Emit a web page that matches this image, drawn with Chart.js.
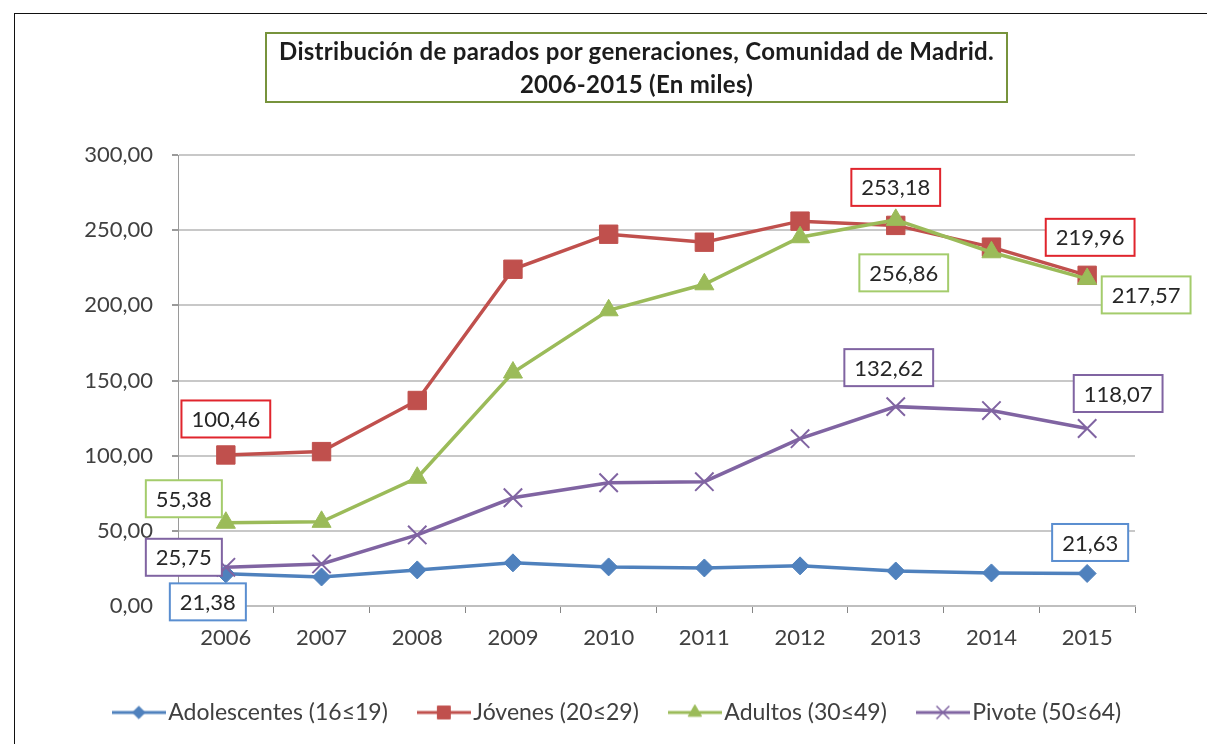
<!DOCTYPE html>
<html>
<head>
<meta charset="utf-8">
<script src="https://cdn.jsdelivr.net/npm/chart.js@4.4.1/dist/chart.umd.min.js"></script>
<style>
    body { margin: 0; background: #fff; }
    #wrap { position: relative; width: 1207px; height: 744px; overflow: hidden; }
    #frame { position: absolute; left: 14px; top: 13px; width: 1300px; height: 800px; border-top: 1px solid #111; border-left: 1px solid #111; }
    #titulo { position: absolute; left: 265px; top: 32px; width: 739px; height: 67px; border: 2px solid #77933C;
              font: bold 24px Lato, sans-serif; letter-spacing: 0.3px; color: #1c1c1c; text-align: center; line-height: 33px; box-sizing: content-box; }
    #grafico { position: absolute; left: 0; top: 0; }
</style>
</head>
<body>
<div id="wrap">
    <div id="frame"></div>
    <canvas id="grafico" width="1207" height="744"></canvas>
    <div id="titulo">Distribución de parados por generaciones, Comunidad de Madrid.<br>2006-2015 (En miles)</div>
</div>
<script>
const anios = ['2006', '2007', '2008', '2009', '2010', '2011', '2012', '2013', '2014', '2015'];
const adolescentes = [21.38, 19.3, 24.0, 28.7, 26.0, 25.3, 26.7, 23.3, 22.0, 21.63];
const jovenes = [100.46, 102.7, 136.7, 224.0, 247.3, 242.0, 256.0, 253.18, 238.7, 219.96];
const adultos = [55.38, 56.0, 85.3, 155.3, 196.7, 214.0, 245.3, 256.86, 235.3, 217.57];
const pivote = [25.75, 28.0, 47.3, 72.0, 82.0, 82.7, 111.3, 132.62, 130.0, 118.07];
const nombres = ['Adolescentes (16≤19)', 'Jóvenes (20≤29)', 'Adultos (30≤49)', 'Pivote (50≤64)'];

const colores = ['#4F81BD', '#C0504D', '#9BBB59', '#8064A2'];
const coloresEtiqueta = ['#5A8ED0', '#E0252D', '#A4CC6C', '#8064A2'];
const estilos = ['rectRot', 'rect', 'triangle', 'crossRot'];
const radios = [9, 13, 11, 13];
const fuente = 'Lato, "DejaVu Sans", sans-serif';

// etiquetas de datos: serie, punto, desplazamiento en px
const etiquetas = [
    { ds: 0, i: 0, dx: -18, dy: 28 }, { ds: 0, i: 9, dx: 3, dy: -31 },
    { ds: 1, i: 0, dx: 0, dy: -36 }, { ds: 1, i: 7, dx: 0, dy: -38 }, { ds: 1, i: 9, dx: 3, dy: -38 },
    { ds: 2, i: 0, dx: -42, dy: -24 }, { ds: 2, i: 7, dx: 8, dy: 53 }, { ds: 2, i: 9, dx: 59, dy: 16 },
    { ds: 3, i: 0, dx: -42, dy: -10 }, { ds: 3, i: 7, dx: -7, dy: -39 }, { ds: 3, i: 9, dx: 31, dy: -35 }
];

function formato(v) {
    return v.toFixed(2).replace('.', ',');
}

function iconoLeyenda(n) {
    const c = document.createElement('canvas');
    c.width = 54;
    c.height = 20;
    const ctx = c.getContext('2d');
    ctx.strokeStyle = colores[n];
    ctx.lineWidth = 3;
    ctx.beginPath();
    ctx.moveTo(0, 10);
    ctx.lineTo(54, 10);
    ctx.stroke();
    ctx.fillStyle = colores[n];
    ctx.lineWidth = n == 3 ? 1.5 : 1;
    Chart.helpers.drawPoint(ctx, { pointStyle: estilos[n], radius: radios[n] * 0.7, rotation: 0, borderWidth: ctx.lineWidth }, 27, 10);
    return c;
}

const pluginEtiquetas = {
    id: 'etiquetas',
    afterDatasetsDraw(chart) {
        const ctx = chart.ctx;
        ctx.save();
        ctx.font = '22px ' + fuente;
        ctx.textAlign = 'center';
        ctx.textBaseline = 'middle';
        etiquetas.forEach(e => {
            const punto = chart.getDatasetMeta(e.ds).data[e.i];
            const texto = formato(chart.data.datasets[e.ds].data[e.i]);
            const cx = punto.x + e.dx;
            const cy = punto.y + e.dy;
            const w = ctx.measureText(texto).width + 20;
            const h = 37;
            ctx.fillStyle = '#fff';
            ctx.fillRect(cx - w / 2, cy - h / 2, w, h);
            ctx.strokeStyle = coloresEtiqueta[e.ds];
            ctx.lineWidth = 2;
            ctx.strokeRect(cx - w / 2, cy - h / 2, w, h);
            ctx.fillStyle = '#262626';
            ctx.fillText(texto, cx, cy + 1);
        });
        ctx.restore();
    }
};

const series = [adolescentes, jovenes, adultos, pivote];

const data = {
    labels: anios,
    datasets: series.map((valores, n) => ({
        label: nombres[n],
        data: valores,
        borderColor: colores[n],
        backgroundColor: colores[n],
        borderWidth: 3.5,
        pointStyle: estilos[n],
        pointRadius: radios[n],
        pointBorderWidth: n == 3 ? 2 : 1,
        tension: 0,
        order: 4 - n
    }))
};

const config = {
    type: 'line',
    data: data,
    options: {
        responsive: false,
        animation: false,
        layout: {
            padding: { left: 35, right: 0, top: 155, bottom: 10 }
        },
        scales: {
            x: {
                offset: true,
                grid: { offset: true, drawOnChartArea: false, tickLength: 7, tickColor: '#868686', lineWidth: 1 },
                border: { color: '#BFBFBF', width: 2 },
                ticks: { color: '#404040', font: { family: fuente, size: 22 }, padding: 12 },
                afterFit: s => { s.height = 57; }
            },
            y: {
                min: 0,
                max: 300,
                ticks: { stepSize: 50, color: '#404040', font: { family: fuente, size: 22 }, padding: 19, callback: v => formato(v) },
                grid: { color: '#C8C8C8', lineWidth: 2, tickLength: 6, tickColor: '#9A9A9A' },
                border: { color: '#9A9A9A', width: 1 },
                afterFit: s => { s.width = 143; }
            },
            margen: {
                position: 'right',
                grid: { display: false },
                ticks: { display: false },
                border: { display: false },
                afterFit: s => { s.width = 72; }
            }
        },
        plugins: {
            title: { display: false },
            tooltip: { enabled: false },
            legend: {
                position: 'bottom',
                labels: {
                    usePointStyle: true,
                    pointStyleWidth: 36,
                    color: '#404040',
                    font: { family: fuente, size: 23 },
                    padding: 38,
                    generateLabels: chart => chart.data.datasets.map((d, n) => ({
                        text: d.label,
                        pointStyle: iconoLeyenda(n),
                        fillStyle: colores[n],
                        strokeStyle: colores[n],
                        lineWidth: 0,
                        datasetIndex: n,
                        fontColor: '#404040'
                    }))
                }
            }
        }
    },
    plugins: [pluginEtiquetas]
};

const miGrafico = new Chart(document.getElementById('grafico'), config);
</script>
</body>
</html>
